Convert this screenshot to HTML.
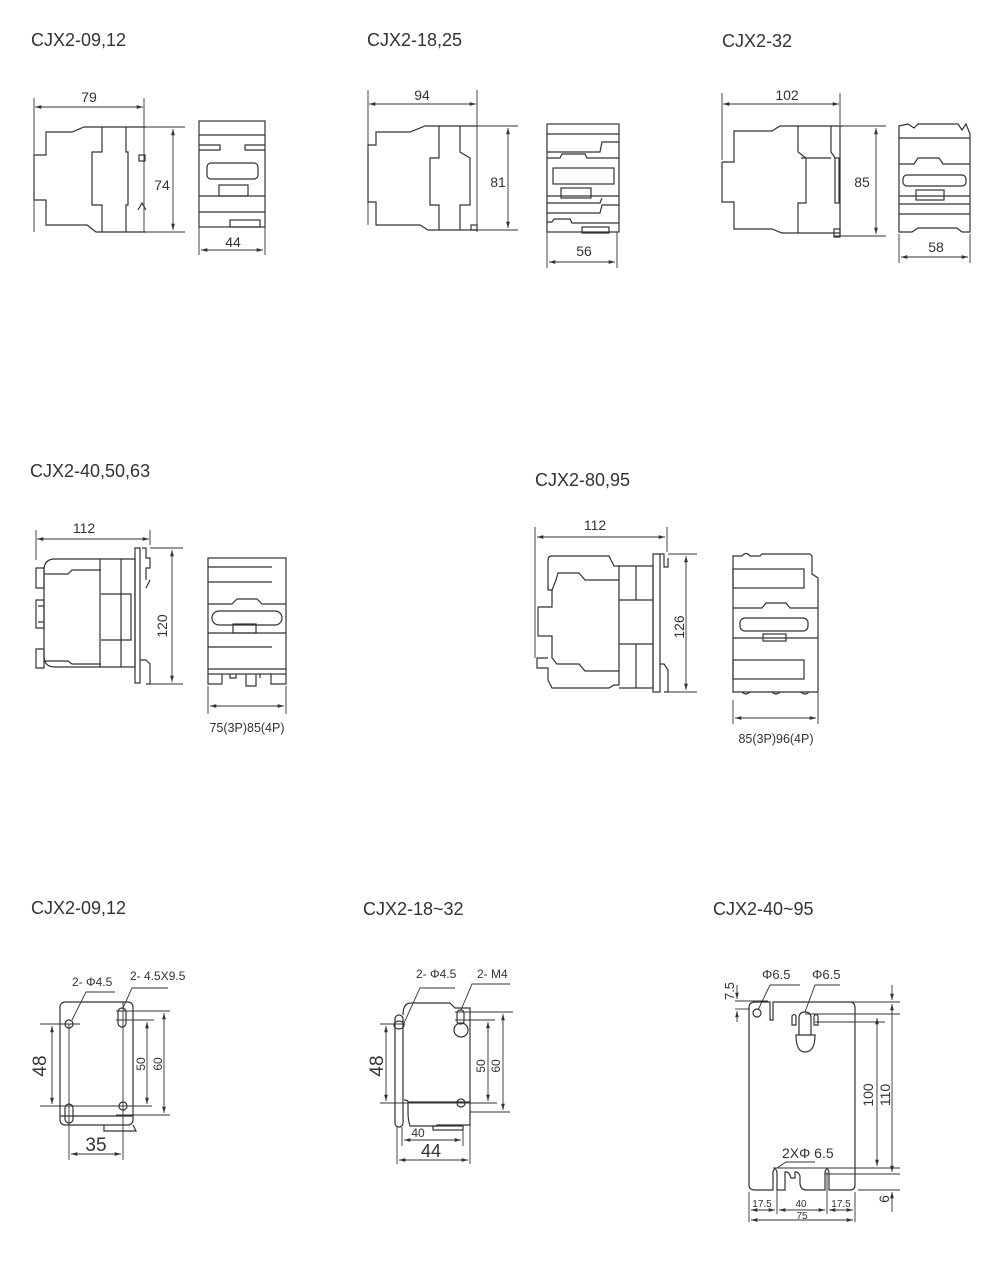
<!DOCTYPE html>
<html><head><meta charset="utf-8"><style>
html,body{margin:0;padding:0;background:#fff;}
svg{display:block}
.t{font-family:"Liberation Sans","DejaVu Sans",sans-serif;fill:#333}
.k{fill:none;stroke:#333;stroke-width:1.2}
.d{fill:none;stroke:#333;stroke-width:0.9}
</style></head><body>
<svg width="1002" height="1262" viewBox="0 0 1002 1262" xmlns="http://www.w3.org/2000/svg">
<defs>
<marker id="a" viewBox="0 0 10 10" refX="10" refY="5" markerWidth="7" markerHeight="7" orient="auto-start-reverse"><path d="M0,2 L10,5 L0,8 z" fill="#333"/></marker>
</defs>
<g class="t" font-size="18">
<text x="31" y="46">CJX2-09,12</text>
<text x="367" y="46">CJX2-18,25</text>
<text x="722" y="47">CJX2-32</text>
<text x="30" y="477">CJX2-40,50,63</text>
<text x="535" y="486">CJX2-80,95</text>
<text x="31" y="914">CJX2-09,12</text>
<text x="363" y="915">CJX2-18~32</text>
<text x="713" y="915">CJX2-40~95</text>
</g>

<g>
<line class="d" x1="34" y1="98" x2="34" y2="232"/>
<line class="d" x1="144" y1="98" x2="144" y2="232"/>
<line class="d" x1="35" y1="107" x2="143" y2="107" marker-start="url(#a)" marker-end="url(#a)"/>
<text class="t" x="89" y="102" font-size="14" text-anchor="middle">79</text>
<path class="k" d="M34,155 L46,155 L46,132 L72,132 L84,127 L146,127 M34,155 L34,200 L46,200 L46,225 L87,225 L96,232 L146,232"/>
<path class="k" d="M102,127 L102,152 L92,152 L92,205 L102,205 L102,232 M126,127 L126,152 L128,152 L128,205 L126,205 L126,232"/>
<rect class="k" x="139" y="155" width="6" height="6"/>
<path class="k" d="M138,210 L142,203 L146,210"/>
<line class="d" x1="146" y1="127" x2="185" y2="127"/>
<line class="d" x1="146" y1="232" x2="185" y2="232"/>
<line class="d" x1="173" y1="129" x2="173" y2="230" marker-start="url(#a)" marker-end="url(#a)"/>
<text class="t" x="162" y="190" font-size="14" text-anchor="middle">74</text>
<rect class="k" x="199" y="121" width="66" height="106"/>
<line class="k" x1="199" y1="135" x2="265" y2="135"/>
<path class="k" d="M199,145 L220,145 L220,150 L199,150 M265,145 L245,145 L245,150 L265,150"/>
<rect class="k" x="207" y="163" width="51" height="16" rx="4"/>
<rect class="k" x="219" y="185" width="29" height="11"/>
<line class="k" x1="199" y1="196" x2="265" y2="196"/>
<line class="k" x1="199" y1="212" x2="265" y2="212"/>
<rect class="k" x="230" y="220" width="30" height="7"/>
<line class="d" x1="199" y1="227" x2="199" y2="255"/>
<line class="d" x1="265" y1="227" x2="265" y2="255"/>
<line class="d" x1="201" y1="250" x2="263" y2="250" marker-start="url(#a)" marker-end="url(#a)"/>
<text class="t" x="233" y="247" font-size="14" text-anchor="middle">44</text>
</g>

<g>
<line class="d" x1="368" y1="90" x2="368" y2="225"/>
<line class="d" x1="477" y1="90" x2="477" y2="232"/>
<line class="d" x1="369" y1="104" x2="476" y2="104" marker-start="url(#a)" marker-end="url(#a)"/>
<text class="t" x="422" y="100" font-size="14" text-anchor="middle">94</text>
<path class="k" d="M368,145 L376,145 L376,132 L410,132 L425,126 L477,126 M368,145 L368,202 L376,202 L376,225 L420,225 L428,230 L477,230"/>
<path class="k" d="M439,126 L439,158 L430,158 L430,205 L439,205 L439,230 M460,126 L460,152 L470,158 L470,205 L460,205 L460,230"/>
<rect class="k" x="471" y="225" width="6" height="5"/>
<line class="d" x1="477" y1="126" x2="518" y2="126"/>
<line class="d" x1="477" y1="230" x2="518" y2="230"/>
<line class="d" x1="508" y1="128" x2="508" y2="228" marker-start="url(#a)" marker-end="url(#a)"/>
<text class="t" x="498" y="187" font-size="14" text-anchor="middle">81</text>
<rect class="k" x="547" y="124" width="72" height="108"/>
<path class="k" d="M547,134 L619,134 M547,152 L600,152 L602,142 L619,142 M547,158 L560,158 L562,154 L585,154 L587,158 L619,158"/>
<rect class="k" x="553" y="168" width="61" height="16"/>
<rect class="k" x="561" y="188" width="30" height="10"/>
<path class="k" d="M547,196 L619,196 M547,203 L600,203 L602,198 M547,213 L600,213 L602,205 L619,205 M547,222 L552,222 L554,219 L570,219 L572,223 L619,223"/>
<rect class="k" x="582" y="227" width="27" height="6"/>
<line class="d" x1="547" y1="232" x2="547" y2="268"/>
<line class="d" x1="617" y1="232" x2="617" y2="268"/>
<line class="d" x1="549" y1="262" x2="615" y2="262" marker-start="url(#a)" marker-end="url(#a)"/>
<text class="t" x="584" y="256" font-size="14" text-anchor="middle">56</text>
</g>

<g>
<line class="d" x1="722" y1="93" x2="722" y2="160"/>
<line class="d" x1="840" y1="93" x2="840" y2="125"/>
<line class="d" x1="723" y1="104" x2="839" y2="104" marker-start="url(#a)" marker-end="url(#a)"/>
<text class="t" x="787" y="100" font-size="14" text-anchor="middle">102</text>
<path class="k" d="M722,162 L734,162 L734,131 L772,131 L780,126 L835,126 L843,126 M722,162 L722,202 L734,202 L734,229 L772,229 L782,233 L840,233 L840,126"/>
<path class="k" d="M798,126 L798,152 L806,158 L806,203 L798,203 L798,233 M831,126 L831,152 L835,158 M801,158 L831,158"/>
<rect class="k" x="835" y="158" width="4" height="45"/>
<rect class="k" x="834" y="229" width="6" height="8"/>
<line class="d" x1="840" y1="126" x2="886" y2="126"/>
<line class="d" x1="834" y1="236" x2="886" y2="236"/>
<line class="d" x1="876" y1="128" x2="876" y2="234" marker-start="url(#a)" marker-end="url(#a)"/>
<text class="t" x="862" y="187" font-size="14" text-anchor="middle">85</text>
<path class="k" d="M899,126 L908,124 L914,128 L918,124 L958,124 L962,130 L966,124 L970,134 L970,232 L962,232 L957,228 L918,228 L912,232 L899,232 Z"/>
<line class="k" x1="899" y1="138" x2="970" y2="138"/>
<path class="k" d="M899,164 L914,164 L918,158 L939,158 L943,164 L970,164"/>
<rect class="k" x="903" y="175" width="63" height="11" rx="4"/>
<rect class="k" x="916" y="190" width="28" height="10"/>
<path class="k" d="M899,196 L970,196 M899,204 L970,204 M899,214 L970,214"/>
<line class="d" x1="899" y1="234" x2="899" y2="263"/>
<line class="d" x1="970" y1="234" x2="970" y2="263"/>
<line class="d" x1="901" y1="257" x2="968" y2="257" marker-start="url(#a)" marker-end="url(#a)"/>
<text class="t" x="936" y="252" font-size="14" text-anchor="middle">58</text>
</g>

<g>
<line class="d" x1="36" y1="530" x2="36" y2="560"/>
<line class="d" x1="150" y1="530" x2="150" y2="545"/>
<line class="d" x1="37" y1="539" x2="149" y2="539" marker-start="url(#a)" marker-end="url(#a)"/>
<text class="t" x="84" y="533" font-size="14" text-anchor="middle">112</text>
<path class="k" d="M44,570 Q44,559 55,559 L121,559 L121,667 L55,667 Q44,667 44,656 Z"/>
<path class="k" d="M36,568 L44,568 L44,588 L36,588 Z M36,600 L44,600 L44,628 L36,628 Z M38,606 L44,606 L44,622 L38,622 M36,649 L44,649 L44,668 L36,668 Z"/>
<path class="k" d="M44,574 L68,574 L72,570 L101,570 M44,661 L68,661 L72,664 L101,664"/>
<path class="k" d="M100,559 L100,667 M101,594 L131,594 L131,640 L101,640"/>
<path class="k" d="M121,559 L135,559 L135,667 L121,667"/>
<path class="k" d="M135,548 L140,548 L140,683 L135,683 Z M142,548 L146,548 L146,558 L150,558 L150,568 L146,568 L146,580 M146,588 L150,580 M140,660 L146,660 L150,664 L150,684 L146,684"/>
<line class="d" x1="150" y1="548" x2="183" y2="548"/>
<line class="d" x1="150" y1="684" x2="183" y2="684"/>
<line class="d" x1="172" y1="550" x2="172" y2="682" marker-start="url(#a)" marker-end="url(#a)"/>
<text class="t" font-size="14" text-anchor="middle" transform="translate(167,626) rotate(-90)">120</text>
<rect class="k" x="208" y="558" width="78" height="116"/>
<path class="k" d="M208,567 L272,567 M208,582 L272,582 M208,604 L232,604 L237,599 L257,599 L262,604 L286,604 M208,633 L286,633 M208,647 L272,647 M208,669 L286,669"/>
<rect class="k" x="212" y="611" width="70" height="14" rx="7"/>
<rect class="k" x="233" y="624" width="23" height="9"/>
<path class="k" d="M208,674 L208,684 L222,684 L222,674 M230,674 L230,678 L236,678 L236,674 M246,674 L246,686 L256,686 L256,674 M260,674 L260,678 M271,674 L271,684 L286,684 L286,674"/>
<line class="d" x1="208" y1="686" x2="208" y2="714"/>
<line class="d" x1="286" y1="686" x2="286" y2="714"/>
<line class="d" x1="210" y1="706" x2="284" y2="706" marker-start="url(#a)" marker-end="url(#a)"/>
<text class="t" x="247" y="732" font-size="12.5" text-anchor="middle">75(3P)85(4P)</text>
</g>

<g>
<line class="d" x1="535" y1="527" x2="535" y2="658"/>
<line class="d" x1="667" y1="527" x2="667" y2="552"/>
<line class="d" x1="537" y1="537" x2="665" y2="537" marker-start="url(#a)" marker-end="url(#a)"/>
<text class="t" x="595" y="530" font-size="14" text-anchor="middle">112</text>
<path class="k" d="M548,560 Q548,556 552,556 L609,556 L614,566 L619,566 L619,580 L585,580 L579,573 L558,573 L556,580 L552,590 L548,590 Z"/>
<path class="k" d="M552,590 L552,607 L538,607 L538,636 L552,636 L552,658 L557,664 L579,664 L585,671 L619,671 L619,685 L614,685 L609,688 L552,688 L548,680 L548,668 L537,668 L537,658 L548,658"/>
<path class="k" d="M619,566 L653,566 L653,688 L619,688 M619,580 L619,671 M619,600 L653,600 M619,644 L653,644 M636,566 L636,600 M636,644 L636,688"/>
<path class="k" d="M653,554 L660,554 L660,692 L653,692 Z M660,554 L664,554 L664,567 L668,567 L668,558 M660,664 L664,664 L668,670 L668,692 L664,692"/>
<line class="d" x1="668" y1="554" x2="697" y2="554"/>
<line class="d" x1="668" y1="692" x2="697" y2="692"/>
<line class="d" x1="686" y1="556" x2="686" y2="690" marker-start="url(#a)" marker-end="url(#a)"/>
<text class="t" font-size="14" text-anchor="middle" transform="translate(684,627) rotate(-90)">126</text>
<path class="k" d="M733,556 L742,556 Q746,551 750,556 L760,556 L762,554 L810,554 L812,556 L812,574 L818,578 L818,692 L733,692 Z"/>
<rect class="k" x="733" y="569" width="71" height="19"/>
<path class="k" d="M733,608 L762,608 L766,603 L786,603 L790,608 L818,608"/>
<rect class="k" x="740" y="618" width="68" height="13" rx="5"/>
<rect class="k" x="763" y="634" width="23" height="7"/>
<line class="k" x1="733" y1="638" x2="818" y2="638"/>
<rect class="k" x="733" y="660" width="71" height="19"/>
<path class="k" d="M742,692 Q746,696 750,692 M772,692 Q776,696 780,692 M801,692 Q805,696 809,692"/>
<line class="d" x1="733" y1="700" x2="733" y2="724"/>
<line class="d" x1="818" y1="679" x2="818" y2="724"/>
<line class="d" x1="735" y1="718" x2="816" y2="718" marker-start="url(#a)" marker-end="url(#a)"/>
<text class="t" x="776" y="743" font-size="12.5" text-anchor="middle">85(3P)96(4P)</text>
</g>

<g>
<rect class="k" x="60" y="1002" width="73" height="123" rx="5"/>
<circle class="k" cx="69" cy="1024" r="4"/>
<rect class="k" x="118" y="1008" width="8" height="19" rx="4"/>
<rect class="k" x="65" y="1104" width="8" height="19" rx="4"/>
<circle class="k" cx="123" cy="1106" r="4"/>
<line class="d" x1="69" y1="1024" x2="69" y2="1160"/>
<line class="d" x1="123" y1="1002" x2="123" y2="1160"/>
<path class="k" d="M60,1116 L133,1116 M104,1125 L104,1131 L136,1131 L133,1125"/>
<line class="d" x1="40" y1="1024" x2="80" y2="1024"/>
<line class="d" x1="40" y1="1106" x2="152" y2="1106"/>
<line class="d" x1="116" y1="1011" x2="170" y2="1011"/>
<line class="d" x1="116" y1="1020" x2="154" y2="1020"/>
<line class="d" x1="116" y1="1115" x2="170" y2="1115"/>
<line class="d" x1="52" y1="1026" x2="52" y2="1104" marker-start="url(#a)" marker-end="url(#a)"/>
<line class="d" x1="147" y1="1022" x2="147" y2="1104" marker-start="url(#a)" marker-end="url(#a)"/>
<line class="d" x1="164" y1="1013" x2="164" y2="1113" marker-start="url(#a)" marker-end="url(#a)"/>
<line class="d" x1="71" y1="1154" x2="121" y2="1154" marker-start="url(#a)" marker-end="url(#a)"/>
<text class="t" font-size="19" text-anchor="middle" transform="translate(46,1066) rotate(-90)">48</text>
<text class="t" font-size="12" text-anchor="middle" transform="translate(145,1064) rotate(-90)">50</text>
<text class="t" font-size="12" text-anchor="middle" transform="translate(162,1064) rotate(-90)">60</text>
<text class="t" x="96" y="1151" font-size="19" text-anchor="middle">35</text>
<path class="d" d="M72,1020 L86,992 L115,992 M123,1008 L132,988 L168,988"/>
<text class="t" x="72" y="986" font-size="12">2- Φ4.5</text>
<text class="t" x="130" y="980" font-size="12">2- 4.5X9.5</text>
</g>

<g>
<rect class="k" x="395" y="1015" width="8" height="112" rx="4"/>
<path class="k" d="M403,1015 Q403,1003 411,1003 L450,1003 L455,1008 L470,1008 L470,1125 L437,1125 L437,1126 L410,1126 Q408,1120 408,1112 L408,1102 Q408,1100 404,1100"/>
<path class="k" d="M408,1102 L470,1102"/>
<ellipse class="k" cx="399" cy="1025" rx="5" ry="4"/>
<rect class="k" x="457" y="1010" width="7" height="14" rx="3"/>
<circle class="k" cx="461" cy="1030" r="7"/>
<circle class="k" cx="461" cy="1103" r="4"/>
<rect class="k" x="433" y="1126" width="30" height="4"/>
<line class="d" x1="380" y1="1024" x2="405" y2="1024"/>
<line class="d" x1="380" y1="1103" x2="497" y2="1103"/>
<line class="d" x1="455" y1="1012" x2="513" y2="1012"/>
<line class="d" x1="455" y1="1020" x2="495" y2="1020"/>
<line class="d" x1="470" y1="1112" x2="510" y2="1112"/>
<line class="d" x1="386" y1="1026" x2="386" y2="1101" marker-start="url(#a)" marker-end="url(#a)"/>
<line class="d" x1="488" y1="1022" x2="488" y2="1101" marker-start="url(#a)" marker-end="url(#a)"/>
<line class="d" x1="503" y1="1014" x2="503" y2="1110" marker-start="url(#a)" marker-end="url(#a)"/>
<line class="d" x1="397" y1="1127" x2="397" y2="1164"/>
<line class="d" x1="402" y1="1127" x2="402" y2="1146"/>
<line class="d" x1="463" y1="1127" x2="463" y2="1146"/>
<line class="d" x1="470" y1="1125" x2="470" y2="1164"/>
<line class="d" x1="404" y1="1140" x2="461" y2="1140" marker-start="url(#a)" marker-end="url(#a)"/>
<line class="d" x1="399" y1="1160" x2="468" y2="1160" marker-start="url(#a)" marker-end="url(#a)"/>
<text class="t" x="418" y="1137" font-size="12" text-anchor="middle">40</text>
<text class="t" x="431" y="1157" font-size="18" text-anchor="middle">44</text>
<text class="t" font-size="19" text-anchor="middle" transform="translate(383,1066) rotate(-90)">48</text>
<text class="t" font-size="12" text-anchor="middle" transform="translate(485,1066) rotate(-90)">50</text>
<text class="t" font-size="12" text-anchor="middle" transform="translate(500,1066) rotate(-90)">60</text>
<path class="d" d="M404,1023 L420,988 L455,988 M461,1010 L472,984 L510,984"/>
<text class="t" x="416" y="978" font-size="12">2- Φ4.5</text>
<text class="t" x="477" y="978" font-size="12">2- M4</text>
</g>

<g>
<path class="k" d="M773,1002 L850,1002 Q855,1002 855,1008 L855,1185 Q855,1190 850,1190 L829,1190 L829,1172 Q827,1166 825,1172 L825,1190 L806,1190 Q801,1190 800,1184 L800,1176 Q798,1171 795,1172 L795,1178 L791,1178 Q789,1171 785,1172 L785,1190 L777,1190 L777,1172 Q775,1166 773,1172 L773,1190 L755,1190 Q749,1190 749,1185 L749,1008 Q749,1002 755,1002 L770,1002 L770,1020 L773,1020 Z"/>
<circle class="k" cx="757" cy="1013" r="4"/>
<path class="k" d="M799,1035 L799,1018 Q799,1012 805,1012 Q811,1012 811,1018 L811,1035"/>
<path class="k" d="M792,1025 L792,1016 Q794,1013 796,1016 L796,1025 Z M814,1025 L814,1016 Q816,1013 818,1016 L818,1025 Z"/>
<path class="k" d="M796,1035 L815,1035 Q815,1052 805,1052 Q796,1052 796,1035 Z"/>
<line class="d" x1="815" y1="1022" x2="885" y2="1022"/>
<line class="d" x1="850" y1="1002" x2="900" y2="1002"/>
<line class="d" x1="805" y1="1014" x2="900" y2="1014"/>
<line class="d" x1="773" y1="1168" x2="900" y2="1168"/>
<line class="d" x1="825" y1="1174" x2="900" y2="1174"/>
<line class="d" x1="858" y1="1190" x2="900" y2="1190"/>
<line class="d" x1="877" y1="1018" x2="877" y2="1166" marker-start="url(#a)" marker-end="url(#a)"/>
<line class="d" x1="892" y1="1004" x2="892" y2="1172" marker-start="url(#a)" marker-end="url(#a)"/>
<line class="d" x1="892" y1="985" x2="892" y2="1000" marker-end="url(#a)"/>
<line class="d" x1="892" y1="1212" x2="892" y2="1192" marker-end="url(#a)"/>
<text class="t" font-size="14" text-anchor="middle" transform="translate(873,1095) rotate(-90)">100</text>
<text class="t" font-size="14" text-anchor="middle" transform="translate(890,1095) rotate(-90)">110</text>
<text class="t" font-size="14" text-anchor="middle" transform="translate(889,1199) rotate(-90)">6</text>
<line class="d" x1="735" y1="1001" x2="768" y2="1001"/>
<line class="d" x1="735" y1="1009" x2="750" y2="1009"/>
<line class="d" x1="737" y1="985" x2="737" y2="999" marker-end="url(#a)"/>
<line class="d" x1="737" y1="1022" x2="737" y2="1011" marker-end="url(#a)"/>
<text class="t" font-size="13" text-anchor="middle" transform="translate(734,991) rotate(-90)">7.5</text>
<path class="d" d="M758,1010 L770,985 L800,985 M805,1012 L815,985 L840,985"/>
<text class="t" x="762" y="979" font-size="13">Φ6.5</text>
<text class="t" x="812" y="979" font-size="13">Φ6.5</text>
<path class="d" d="M777,1168 L786,1162 L815,1162"/>
<text class="t" x="782" y="1158" font-size="14">2XΦ 6.5</text>
<line class="d" x1="749" y1="1192" x2="749" y2="1222"/>
<line class="d" x1="777" y1="1172" x2="777" y2="1214"/>
<line class="d" x1="827" y1="1172" x2="827" y2="1214"/>
<line class="d" x1="855" y1="1192" x2="855" y2="1222"/>
<line class="d" x1="751" y1="1210" x2="775" y2="1210" marker-start="url(#a)" marker-end="url(#a)"/>
<line class="d" x1="779" y1="1210" x2="825" y2="1210" marker-start="url(#a)" marker-end="url(#a)"/>
<line class="d" x1="829" y1="1210" x2="853" y2="1210" marker-start="url(#a)" marker-end="url(#a)"/>
<line class="d" x1="751" y1="1220" x2="853" y2="1220" marker-start="url(#a)" marker-end="url(#a)"/>
<text class="t" x="762" y="1207" font-size="10" text-anchor="middle">17.5</text>
<text class="t" x="801" y="1207" font-size="10" text-anchor="middle">40</text>
<text class="t" x="841" y="1207" font-size="10" text-anchor="middle">17.5</text>
<text class="t" x="802" y="1219" font-size="10" text-anchor="middle">75</text>
</g>
</svg>
</body></html>
